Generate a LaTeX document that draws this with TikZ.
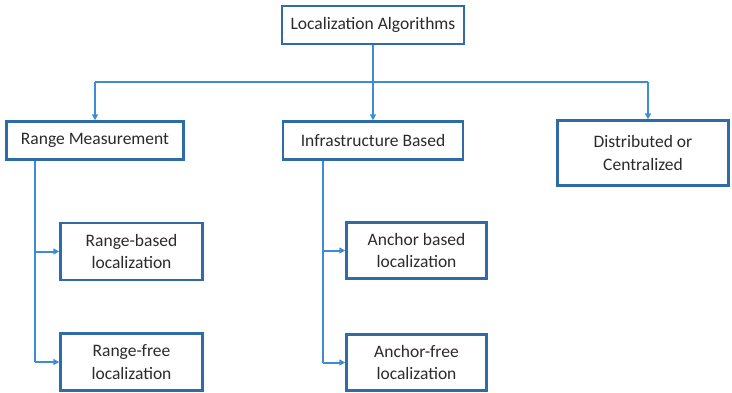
\documentclass[tikz,border=0pt]{standalone}
\usepackage{fontspec}
\setmainfont{Carlito}
\usetikzlibrary{arrows.meta}
\definecolor{boxblue}{HTML}{2E6CA6}
\definecolor{linkblue}{HTML}{3C8DD5}
\definecolor{ink}{HTML}{2B2B2B}
\begin{document}
\begin{tikzpicture}[x=1pt,y=-1pt,
  box/.style={draw=boxblue,line width=2.4pt,fill=white,text=ink,align=center,
    font=\fontsize{17.5}{22.5}\selectfont,inner sep=0pt},
  link/.style={draw=linkblue,line width=2pt,-{Triangle[length=6pt,width=6pt]}},
  plain/.style={draw=linkblue,line width=2pt}]
\useasboundingbox (0,0) rectangle (732,392);
% boxes (corner coordinates in pixels)
\node[box,minimum width=182pt,minimum height=38pt] (top) at (373,25) {Localization Algorithms};
\node[box,minimum width=177pt,minimum height=38pt] (range) at (95,140.5) {Range Measurement};
\node[box,minimum width=180pt,minimum height=38pt] (infra) at (373,140.5) {Infrastructure Based};
\node[box,minimum width=171pt,minimum height=65pt] (dist) at (643,153) {Distributed or\\Centralized};
\node[box,minimum width=142pt,minimum height=57pt] (rb) at (131.5,251.5) {Range-based\\localization};
\node[box,minimum width=142pt,minimum height=57pt] (rf) at (131.5,362) {Range-free\\localization};
\node[box,minimum width=140pt,minimum height=56pt] (ab) at (416.5,250.5) {Anchor based\\localization};
\node[box,minimum width=140pt,minimum height=56pt] (af) at (416.5,362.5) {Anchor-free\\localization};
% branch points
\coordinate (hl) at (95,82);
\coordinate (hr) at (648,82);
\coordinate (mid) at (373,82);
\coordinate (rv) at (35,0);
\coordinate (iv) at (323,0);
% top level
\draw[plain] (top.south) -- (mid);
\draw[plain] (hl) -- (hr);
\draw[link] (mid) -- (infra.north);
\draw[link] (hl) -- (range.north);
\draw[link] (hr) -- (hr |- dist.north);
% range measurement branch
\draw[plain] (rv |- range.south) -- (rv |- rf.west);
\draw[link] (rv |- rb.west) -- (rb.west);
\draw[link] (rv |- rf.west) -- (rf.west);
% infrastructure branch
\draw[plain] (iv |- infra.south) -- (iv |- af.west);
\draw[link] (iv |- ab.west) -- (ab.west);
\draw[link] (iv |- af.west) -- (af.west);
\end{tikzpicture}
\end{document}
